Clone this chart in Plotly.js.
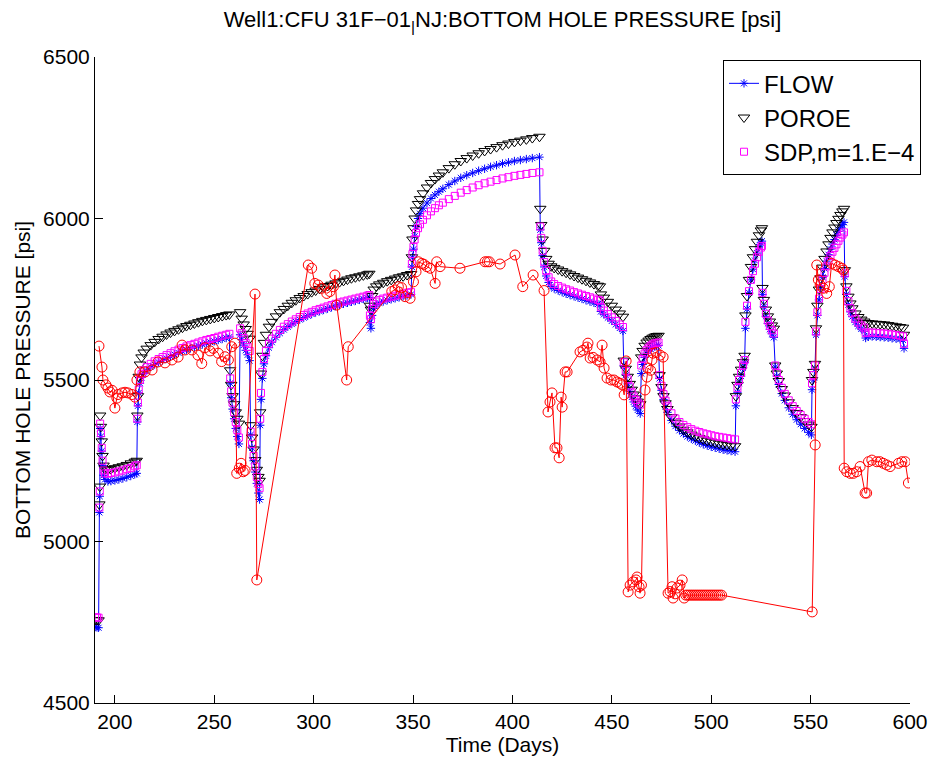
<!DOCTYPE html>
<html><head><meta charset="utf-8">
<script src="https://cdn.plot.ly/plotly-3.0.1.min.js"></script>
<style>html,body{margin:0;padding:0;background:#fff}#chart{width:935px;height:757px}</style>
</head><body><div id="chart"></div>
<script>
// ---- simulated series (shared time axis, days) ----
const simDays = [
 190,191,191.8,
 192.2,192.4,192.6,193,193.4,193.8,194.3,195,196.5,198,200,202,204,206,208,210,211,
 211.3,211.6,212,212.6,213.4,214.5,216,218,220,222,224,226,228,230,232,234,236,238,240,242,244,246,248,250,252,254,256,257.6,
 258,258.5,259.2,260,260.8,261.6,262.4,
 263,263.8,264.8,265.8,266.8,267.8,
 268.3,269,269.8,270.6,271.4,272.2,272.8,
 273.1,273.5,274.2,275,276,277.5,279,281,283,285,287,289,291,293,295,297,299,301,303,305,307,309,311,313,315,317,319,321,323,325,327,328,
 328.3,328.8,329.4,330.2,331.5,333,335,337,339,341,343,345,347,349,
 349.4,349.7,350.2,350.8,351.5,352.5,353.5,355,357,359,361,363,365,368,371,374,377,380,383,386,389,392,395,398,401,404,407,410,413.6,
 414,414.5,415.2,416,417,418.2,419.5,421,423,425,427,429,431,433,435,437,439,441,443,444,
 444.5,446,448,450,452,454,455.6,
 456,457,458,459,460,461,462,463,464.3,
 464.8,465.5,466.5,467.5,468.5,469.5,470.5,471.5,472.5,473.5,
 474,475,476,477,478,480,482,484,486,488,490,492,494,496,498,500,502,504,506,508,510,512,
 512.4,513.2,514,515,516,516.8,
 517.2,518,519,520,521,522,523,524,525,525.5,
 525.8,526.5,527.5,528.5,529.5,530.5,531.5,
 532.2,533,534,535.5,537,539,541,543,545,547,549,550.4,
 550.7,551.4,552.2,
 552.7,553.4,554.2,555,556,557,558,559,560,561,562,563,564,565,566,566.8,
 567.2,568,569,570,571,572.5,574,575.5,577,
 577.7,579,581,583,585,587,589,591,593,595,596.5,597
];
const flowPsi = [
 4735,4734,4733,
 5090,5140,5350,5325,5280,5235,5205,5192,5186,5187,5189,5192,5195,5199,5203,5208,5211,
 5370,5420,5460,5490,5508,5520,5530,5540,5548,5555,5561,5567,5573,5579,5584,5589,5594,5598,5602,5606,5610,5614,5617,5620,5624,5627,5630,5633,
 5490,5445,5410,5380,5350,5325,5302,
 5640,5625,5608,5592,5578,5560,
 5330,5290,5250,5215,5180,5150,5130,
 5360,5440,5505,5550,5575,5600,5617,5632,5645,5656,5665,5673,5680,5687,5693,5699,5704,5709,5713,5717,5721,5725,5729,5733,5736,5739,5742,5745,5748,5751,5754,5756,
 5678,5660,5700,5722,5733,5739,5743,5747,5750,5753,5756,5759,5762,5765,
 5850,5880,5905,5945,5975,6000,6015,6032,6048,6062,6073,6083,6092,6105,6116,6126,6134,6141,6148,6154,6160,6165,6170,6174,6178,6181,6184,6187,6190,
 5965,5925,5885,5850,5822,5802,5790,5783,5777,5772,5767,5763,5759,5755,5751,5747,5743,5739,5735,5733,
 5712,5703,5693,5683,5672,5661,5652,
 5545,5515,5488,5465,5447,5432,5419,5407,5396,
 5520,5548,5570,5583,5591,5597,5601,5604,5606,5607,
 5505,5468,5440,5418,5400,5375,5357,5344,5334,5325,5318,5312,5306,5301,5297,5293,5290,5287,5284,5282,5280,5278,
 5420,5462,5490,5512,5538,5555,
 5660,5720,5770,5810,5843,5870,5893,5912,5925,5930,
 5765,5727,5697,5675,5657,5643,5632,
 5540,5512,5486,5458,5437,5414,5394,5377,5363,5350,5338,5330,
 5470,5500,5533,
 5640,5700,5748,5785,5818,5845,5868,5888,5905,5921,5935,5948,5960,5971,5981,5988,
 5820,5765,5733,5711,5696,5679,5667,5658,5651,
 5630,5634,5635,5634,5633,5632,5631,5629,5628,5626,5624,5598
];
const poroePsi = [
 4757,4757,4756,
 5115,5170,5390,5355,5310,5265,5235,5224,5222,5224,5227,5230,5233,5237,5242,5247,5250,
 5390,5450,5510,5548,5570,5585,5597,5608,5618,5627,5634,5641,5647,5652,5657,5662,5667,5671,5675,5679,5683,5686,5689,5692,5695,5698,5701,5703,
 5530,5485,5450,5425,5400,5380,5365,
 5710,5690,5672,5658,5643,5628,
 5360,5322,5285,5252,5222,5200,5188,
 5400,5520,5575,5615,5640,5665,5680,5697,5710,5720,5730,5739,5747,5754,5760,5766,5772,5777,5782,5787,5791,5795,5799,5803,5807,5811,5815,5818,5821,5824,5827,5829,
 5730,5718,5760,5780,5790,5796,5801,5806,5810,5814,5818,5821,5825,5828,
 5880,5935,5970,6000,6025,6045,6060,6078,6096,6110,6122,6133,6143,6156,6168,6178,6187,6195,6202,6209,6215,6221,6227,6232,6237,6241,6245,6249,6253,
 6030,5980,5935,5900,5875,5860,5852,5847,5842,5837,5832,5827,5822,5817,5812,5807,5802,5797,5792,5790,
 5765,5755,5742,5730,5718,5706,5696,
 5560,5535,5510,5488,5470,5455,5443,5433,5425,
 5570,5590,5606,5616,5622,5627,5631,5634,5636,5637,
 5515,5478,5450,5428,5410,5385,5368,5356,5346,5338,5331,5325,5320,5316,5312,5309,5306,5303,5301,5299,5297,5295,
 5450,5485,5510,5532,5555,5575,
 5700,5760,5810,5850,5880,5905,5928,5948,5963,5970,
 5785,5748,5718,5697,5681,5669,5659,
 5545,5520,5497,5472,5452,5431,5413,5398,5385,5373,5362,5355,
 5500,5525,5550,
 5660,5730,5780,5815,5848,5875,5898,5920,5940,5957,5972,5986,5999,6011,6022,6030,
 5840,5790,5758,5737,5722,5706,5695,5687,5681,
 5676,5676,5675,5674,5673,5672,5670,5668,5666,5664,5662,5640
];
const sdpPsi = [
 4765,4765,4764,
 5105,5155,5365,5335,5290,5250,5220,5211,5210,5212,5214,5217,5220,5224,5228,5233,5236,
 5380,5430,5470,5500,5518,5530,5540,5550,5558,5565,5571,5577,5583,5589,5594,5599,5604,5608,5612,5616,5620,5624,5627,5630,5634,5637,5640,5643,
 5505,5465,5430,5400,5370,5345,5322,
 5660,5645,5630,5615,5602,5590,
 5340,5302,5265,5232,5200,5178,5165,
 5380,5460,5525,5565,5590,5612,5628,5643,5655,5665,5673,5681,5688,5695,5701,5706,5711,5716,5720,5724,5728,5732,5736,5740,5743,5746,5749,5752,5755,5758,5761,5763,
 5700,5688,5720,5735,5743,5748,5752,5755,5758,5761,5764,5767,5770,5772,
 5860,5890,5912,5935,5955,5970,5982,5996,6010,6022,6032,6041,6049,6060,6070,6080,6088,6096,6103,6109,6114,6119,6124,6128,6132,6135,6138,6141,6143,
 5975,5940,5900,5865,5838,5818,5805,5797,5791,5786,5781,5777,5772,5768,5764,5760,5756,5752,5748,5746,
 5725,5715,5704,5694,5683,5672,5664,
 5555,5528,5502,5480,5462,5449,5438,5430,5424,
 5545,5565,5582,5593,5600,5606,5610,5613,5615,5616,
 5515,5482,5456,5436,5420,5397,5381,5370,5361,5354,5348,5343,5339,5335,5332,5329,5326,5324,5322,5320,5318,5316,
 5440,5475,5500,5522,5545,5562,
 5680,5730,5775,5810,5837,5860,5880,5897,5910,5915,
 5770,5736,5705,5684,5667,5654,5644,
 5545,5522,5500,5476,5457,5437,5419,5404,5392,5380,5370,5363,
 5490,5515,5545,
 5650,5710,5752,5782,5810,5832,5852,5869,5884,5897,5909,5920,5931,5941,5950,5957,
 5830,5776,5744,5722,5707,5690,5678,5669,5662,
 5645,5647,5647,5646,5645,5644,5643,5641,5639,5637,5635,5612
];
// ---- observed series ----
const obsDays = [
 192.0,193.5,194.0,195.5,196.5,197.5,198.6,200.0,201.0,201.6,203.6,205.1,206.6,208.6,210.1,
 211.1,212.6,215.2,218.7,221.7,225.2,228.7,231.8,233.8,235.3,238.8,241.8,243.7,245.3,247.9,
 249.5,252.0,253.7,255.4,257.1,258.8,260.4,261.3,262.6,263.5,264.6,265.5,270.5,271.4,
 297.3,299.0,300.6,302.3,304.0,306.6,308.2,309.9,310.7,311.6,316.6,317.4,
 339.3,340.9,342.6,344.2,346.0,348.5,350.2,351.5,352.7,354.4,355.5,356.9,358.6,361.1,361.9,363.6,
 373.6,386.2,387.4,388.4,393.8,401.3,405.2,410.4,415.9,
 417.9,418.9,419.9,421.4,422.4,423.5,424.5,425.0,426.5,427.5,434.0,435.5,437.5,438.0,439.1,440.6,
 442.6,444.1,445.1,446.1,447.6,449.6,451.1,452.6,454.1,455.2,456.2,457.2,
 458.2,459.2,460.7,462.2,462.7,463.7,464.2,464.9,
 466.7,467.7,468.2,469.5,470.2,470.7,472.3,474.3,475.8,
 478.3,479.3,480.3,480.8,481.8,482.8,484.3,485.4,486.4,
 487.2,488.2,489.2,490.2,491.2,492.2,493.2,494.2,495.2,496.2,497.2,498.2,499.2,500.2,501.2,502.2,503.2,504.2,505.2,
 550.8,552.3,553.1,553.9,554.8,556.4,558.1,559.4,560.6,562.3,564.0,565.7,566.5,
 566.9,568.2,569.9,571.5,573.2,574.9,577.4,578.2,579.1,580.8,583.3,584.9,586.6,588.3,590.0,594.2,595.9,597.6,599.2
];
const obsPsi = [
 5605,5540,5500,5485,5475,5463,5468,5413,5444,5455,5460,5462,5460,5455,5447,
 5500,5525,5525,5531,5556,5553,5562,5571,5608,5593,5593,5577,5551,5600,5590,
 5598,5583,5557,5572,5562,5603,5614,5211,5227,5242,5216,5220,5766,4881,
 5856,5846,5799,5794,5784,5768,5774,5789,5825,5732,5500,5603,
 5774,5779,5789,5786,5758,5753,5804,5835,5866,5861,5858,5851,5846,5799,5866,5851,
 5846,5866,5866,5866,5859,5887,5789,5825,5777,
 5401,5432,5460,5290,5290,5259,5447,5416,5525,5525,5587,5592,5602,5614,5568,5570,
 5562,5556,5608,5537,5506,5500,5500,5494,5490,5485,5454,5559,
 4844,4865,4875,4881,4890,4860,4840,4865,
 5469,5509,5537,5530,5562,5583,5585,5577,5571,
 4840,4845,4860,4825,4838,4856,4865,4881,4825,
 4834,4834,4834,4834,4834,4834,4834,4834,4834,4834,4834,4834,4834,4834,4834,4834,4834,4834,4834,
 4782,5299,5856,5810,5794,5784,5768,5789,5861,5856,5851,5846,5840,
 5227,5216,5211,5211,5216,5232,5150,5150,5247,5252,5247,5247,5242,5237,5232,5242,5247,5247,5181
];
const xTicks = [200,250,300,350,400,450,500,550,600];
const yTicks = [4500,5000,5500,6000,6500];
const legendNames = ['FLOW','POROE','SDP,m=1.E\u22124'];
const titleText = 'Well1:CFU 31F\u221201<sub>|</sub>NJ:BOTTOM HOLE PRESSURE [psi]';

const FONT = 'Liberation Sans, Arial, Helvetica, sans-serif';

const traces = [
 {x: simDays, y: flowPsi, name: legendNames[0], legendgroup:'a', mode:'lines+markers',
  line:{color:'#0000ff', width:1},
  marker:{symbol:'asterisk-open', size:7, color:'#0000ff', line:{color:'#0000ff', width:1}}},
 {x: simDays, y: poroePsi, name: legendNames[1], legendgroup:'b', mode:'markers',
  marker:{symbol:'triangle-down-open', size:10, color:'#000000', line:{color:'#000000', width:1}}},
 {x: simDays, y: sdpPsi, name: legendNames[2], legendgroup:'c', mode:'markers',
  marker:{symbol:'square-open', size:7, color:'#ff00ff', line:{color:'#ff00ff', width:1}}},
 {x: obsDays, y: obsPsi, name:'OBS', showlegend:false, mode:'lines+markers',
  line:{color:'#ff0000', width:1},
  marker:{symbol:'circle-open', size:10, color:'#ff0000', line:{color:'#ff0000', width:1}}}
];

const axisCommon = {
  showline:true, linecolor:'#000', linewidth:1, mirror:false,
  ticks:'inside', ticklen:8, tickwidth:1, tickcolor:'#000',
  showgrid:false, zeroline:false, tickfont:{size:21, family:FONT, color:'#000'},
  automargin:false
};

const layout = {
  width:935, height:757,
  margin:{l:95, r:25, t:57, b:54},
  paper_bgcolor:'#fff', plot_bgcolor:'#fff',
  font:{family:FONT, color:'#000'},
  showlegend:true,
  title:{text:titleText, x:0.5375, xref:'container', xanchor:'center', y:0.974, yref:'container', yanchor:'middle',
         font:{size:22, family:FONT, color:'#000'}},
  xaxis:Object.assign({}, axisCommon, {range:[190,600], tickvals:xTicks, ticktext:xTicks.map(String),
         title:{text:'Time (Days)', font:{size:21, family:FONT, color:'#000'}, standoff:0}}),
  yaxis:Object.assign({}, axisCommon, {range:[4500,6500], tickvals:yTicks, ticktext:yTicks.map(String),
         title:{text:'BOTTOM HOLE PRESSURE [psi]', font:{size:21, family:FONT, color:'#000'}, standoff:6}}),
  legend:{x:1.0135, xanchor:'right', y:0.995, yanchor:'top', bordercolor:'#000', borderwidth:1,
          bgcolor:'#fff', font:{size:24, family:FONT, color:'#000'}, traceorder:'grouped', tracegroupgap:0}
};

Plotly.newPlot('chart', traces, layout, {displayModeBar:false, staticPlot:true});
</script>
</body></html>
